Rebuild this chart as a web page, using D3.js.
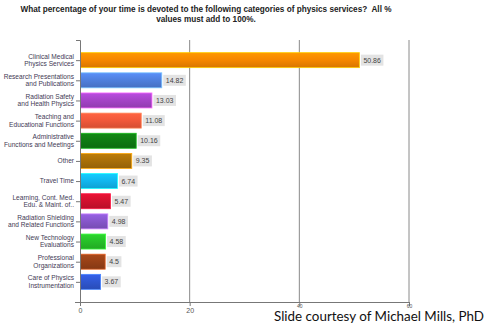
<!DOCTYPE html>
<html>
<head>
<meta charset="utf-8">
<script src="https://cdn.jsdelivr.net/npm/d3@7"></script>
<style>
  html, body { margin: 0; padding: 0; background: #fff; }
  svg { display: block; }
</style>
</head>
<body>
<svg id="chart"></svg>
<script>
const categories = [
    'Clinical Medical\nPhysics Services',
    'Research Presentations\nand Publications',
    'Radiation Safety\nand Health Physics',
    'Teaching and\nEducational Functions',
    'Administrative\nFunctions and Meetings',
    'Other',
    'Travel Time',
    'Learning, Cont. Med.\nEdu. & Maint. of..',
    'Radiation Shielding\nand Related Functions',
    'New Technology\nEvaluations',
    'Professional\nOrganizations',
    'Care of Physics\nInstrumentation'
];
const values = [50.86, 14.82, 13.03, 11.08, 10.16, 9.35, 6.74, 5.47, 4.98, 4.58, 4.5, 3.67];
const barColors = ['#f58600', '#4f7fdc', '#a443c6', '#f0583a', '#0f7a12', '#a86f08',
                   '#12b6ee', '#d0102e', '#8656ca', '#26bf28', '#974017', '#2f56cf'];
const xTicks = [0, 20, 40, 60];
const titleLines = [
    'What percentage of your time is devoted to the following categories of physics services?\u00a0 All %',
    'values must add to 100%.'
];
const footer = 'Slide courtesy of Michael Mills, PhD';

const width = 486, height = 329;
const plot = { left: 80, right: 409, top: 40, bottom: 302 };

const svg = d3.select('#chart').attr('width', width).attr('height', height);
const defs = svg.append('defs');

const xscale = d3.scaleLinear().domain([0, 60]).range([plot.left, plot.right]);
const yscale = d3.scalePoint().domain(categories).range([plot.top, plot.bottom]).padding(1);
const barH = 15;

// title
svg.append('g').selectAll('text')
    .data(titleLines)
    .join('text')
    .attr('x', 206)
    .attr('y', (d, i) => 12 + i * 10)
    .attr('text-anchor', 'middle')
    .style('font-family', 'Liberation Sans, Arial, sans-serif')
    .style('font-weight', 'bold')
    .style('font-size', '8.2px')
    .style('fill', '#222')
    .text(d => d);

// grid lines
svg.append('g').selectAll('line')
    .data(xTicks.slice(1))
    .join('line')
    .attr('x1', d => xscale(d)).attr('x2', d => xscale(d))
    .attr('y1', plot.top).attr('y2', plot.bottom)
    .attr('stroke', '#8a8a8a').attr('stroke-width', 1);

// gradients
barColors.forEach((c, i) => {
    const g = defs.append('linearGradient').attr('id', 'g' + i)
        .attr('x1', 0).attr('y1', 0).attr('x2', 0).attr('y2', 1);
    g.append('stop').attr('offset', '0%').attr('stop-color', d3.color(c).brighter(0.35));
    g.append('stop').attr('offset', '50%').attr('stop-color', c);
    g.append('stop').attr('offset', '100%').attr('stop-color', d3.color(c).darker(0.35));
});

// bars
svg.append('g').selectAll('rect')
    .data(values)
    .join('rect')
    .attr('x', xscale(0) + 0.5)
    .attr('y', (d, i) => yscale(categories[i]) - barH / 2)
    .attr('width', d => xscale(d) - xscale(0))
    .attr('height', barH)
    .attr('fill', (d, i) => `url(#g${i})`)
    .attr('stroke', (d, i) => d3.color(barColors[i]).brighter(1.2))
    .attr('stroke-width', 0.8);

// value labels
const vl = svg.append('g').selectAll('g')
    .data(values)
    .join('g')
    .attr('transform', (d, i) => `translate(${xscale(d) + 2}, ${yscale(categories[i])})`);
vl.append('text')
    .attr('x', 2.5)
    .attr('dy', '0.35em')
    .style('font-family', 'Liberation Sans, Arial, sans-serif')
    .style('font-size', '7px')
    .style('fill', '#444')
    .text(d => d);
vl.each(function () {
    const t = d3.select(this).select('text');
    const w = t.node().getComputedTextLength();
    d3.select(this).insert('rect', 'text')
        .attr('x', 0).attr('y', -5.5)
        .attr('width', w + 5).attr('height', 11)
        .attr('fill', '#e3e3e3');
});

// left axis
const yaxis = d3.axisLeft(yscale).tickSize(4).tickFormat('').tickSizeOuter(4);
const yg = svg.append('g').attr('transform', `translate(${plot.left}, 0)`).call(yaxis);
yg.selectAll('line, path').attr('stroke', '#777');

// category labels
const labels = svg.append('g').selectAll('text')
    .data(categories)
    .join('text')
    .attr('x', plot.left - 6)
    .attr('y', d => yscale(d))
    .attr('text-anchor', 'end')
    .style('font-family', 'Liberation Sans, Arial, sans-serif')
    .style('font-size', '6.6px')
    .style('fill', '#3f3a55');
labels.each(function (d) {
    const lines = d.split('\n');
    const start = lines.length === 1 ? 0.35 : -0.25;
    d3.select(this).selectAll('tspan')
        .data(lines)
        .join('tspan')
        .attr('x', plot.left - 6)
        .attr('dy', (l, i) => i === 0 ? `${start}em` : '1.15em')
        .text(l => l);
});

// bottom axis
const xaxis = d3.axisBottom(xscale).tickValues(xTicks).tickSize(4).tickSizeOuter(0);
const xg = svg.append('g').attr('transform', `translate(0, ${plot.bottom})`).call(xaxis);
xg.select('.domain').attr('d', `M${plot.left - 5},0.5H${plot.right}`);
xg.selectAll('line, path').attr('stroke', '#777');
xg.selectAll('text')
    .attr('y', 6)
    .style('font-family', 'Liberation Sans, Arial, sans-serif')
    .style('font-size', '7px')
    .style('fill', '#555');
// the 40 and 60 labels sit squeezed above the footer, as in the slide
xg.selectAll('.tick text')
    .filter(d => d >= 40)
    .attr('y', 2)
    .style('font-size', '5px');

svg.append('text')
    .attr('x', 484)
    .attr('y', 321)
    .attr('text-anchor', 'end')
    .style('font-family', 'Lato, Open Sans, sans-serif')
    .style('font-size', '13.4px')
    .style('fill', '#111')
    .text(footer);
</script>
</body>
</html>
